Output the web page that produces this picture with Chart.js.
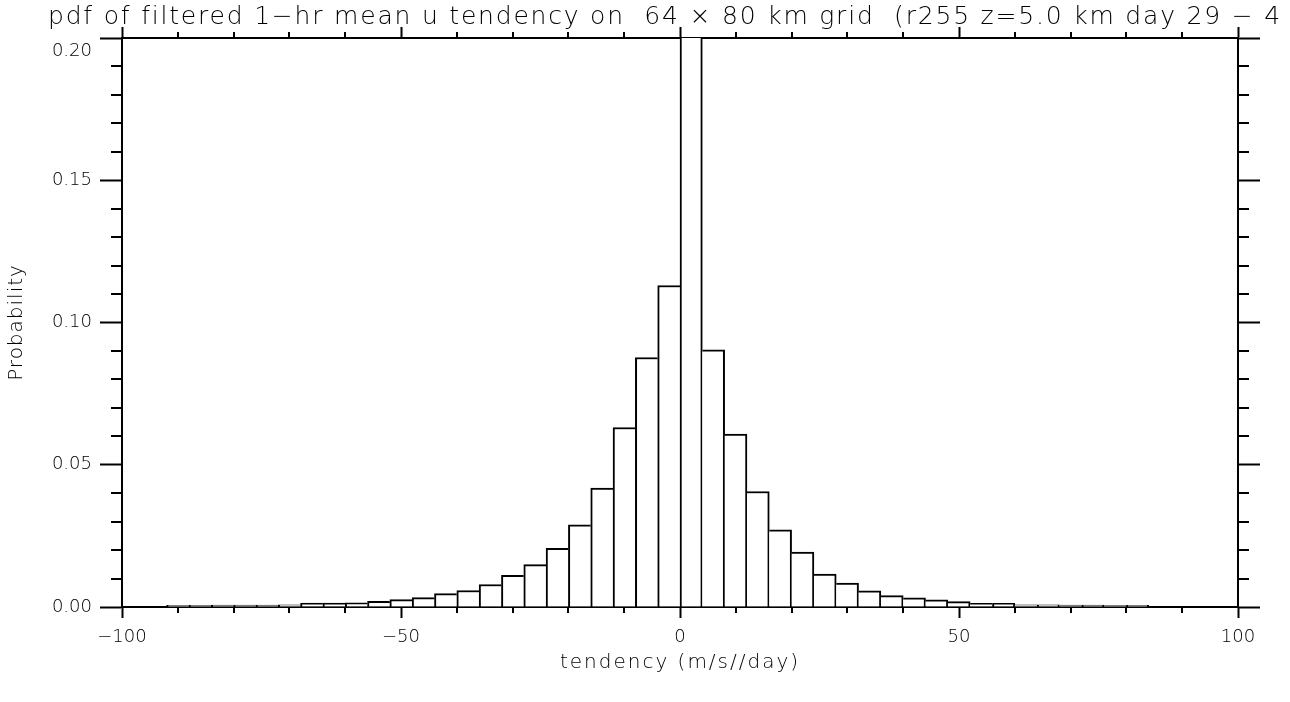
<!DOCTYPE html>
<html>
<head>
<meta charset="utf-8">
<script src="https://cdn.jsdelivr.net/npm/chart.js@4.4.1/dist/chart.umd.min.js"></script>
<style>
  html, body { margin: 0; padding: 0; background: #fff; }
  #wrap { width: 1290px; height: 702px; }
</style>
</head>
<body>
<div id="wrap"><canvas id="pdfChart" width="1290" height="702"></canvas></div>
<script>
// bin centres (4 m/s/day wide bins) and probability
var binCentres = [-90, -86, -82, -78, -74, -70, -66, -62, -58, -54, -50, -46, -42, -38, -34, -30, -26, -22, -18, -14, -10, -6, -2,
                  2, 6, 10, 14, 18, 22, 26, 30, 34, 38, 42, 46, 50, 54, 58, 62, 66, 70, 74, 78, 82];
var probability = [0.0006, 0.0006, 0.0007, 0.0007, 0.0007, 0.0008, 0.0014, 0.0014, 0.0015, 0.0020, 0.0026, 0.0033, 0.0047, 0.0058,
                   0.0079, 0.0111, 0.0149, 0.0206, 0.0289, 0.0418, 0.0631, 0.0877, 0.1130,
                   0.2600, 0.0904, 0.0608, 0.0406, 0.0271, 0.0193, 0.0116, 0.0084, 0.0057, 0.0040, 0.0032, 0.0025, 0.0019,
                   0.0013, 0.0013, 0.0008, 0.0008, 0.0007, 0.0007, 0.0006, 0.0006];
var xMinorTicks = [-90, -80, -70, -60, -40, -30, -20, -10, 10, 20, 30, 40, 60, 70, 80, 90];
var yMinorTicks = [0.01, 0.02, 0.03, 0.04, 0.06, 0.07, 0.08, 0.09, 0.11, 0.12, 0.13, 0.14, 0.16, 0.17, 0.18, 0.19];
var plotTitle = 'pdf of filtered 1\u2212hr mean u tendency on  64 \u00d7 80 km grid  (r255 z=5.0 km day 29 \u2212 4';
var xTitle = 'tendency (m/s//day)';
var yTitle = 'Probability';

var fam = '"DejaVu Sans", sans-serif';
var tickFont = { family: fam, size: 18, weight: '200', lineHeight: 1.5 };

// IDL style minor ticks and the titles (wide spaced like the vector font)
var extras = {
  id: 'extras',
  afterDraw: function(chart) {
    var ctx = chart.ctx, a = chart.chartArea;
    var xs = chart.scales.x, ys = chart.scales.y;
    ctx.save();
    ctx.strokeStyle = '#000';
    ctx.lineWidth = 2;
    ctx.beginPath();
    xMinorTicks.forEach(function(v) {
      var px = Math.round(xs.getPixelForValue(v));
      ctx.moveTo(px, a.bottom); ctx.lineTo(px, a.bottom + 6);
      ctx.moveTo(px, a.top); ctx.lineTo(px, a.top - 6);
    });
    yMinorTicks.forEach(function(v) {
      var py = Math.round(ys.getPixelForValue(v));
      ctx.moveTo(a.left, py); ctx.lineTo(a.left - 11, py);
      ctx.moveTo(a.right, py); ctx.lineTo(a.right + 11, py);
    });
    ctx.stroke();

    ctx.fillStyle = '#000';
    ctx.textBaseline = 'middle';
    ctx.textAlign = 'left';
    ctx.font = '200 25px ' + fam;
    ctx.letterSpacing = '1.8px';
    ctx.fillText(plotTitle, 48, 17);

    ctx.textAlign = 'center';
    ctx.font = '200 20px ' + fam;
    ctx.letterSpacing = '2px';
    ctx.fillText(xTitle, (a.left + a.right) / 2, 663);

    ctx.letterSpacing = '1px';
    ctx.translate(17, (a.top + a.bottom) / 2);
    ctx.rotate(-Math.PI / 2);
    ctx.fillText(yTitle, 0, 0);
    ctx.restore();
  }
};

var axisGrid = function(len) {
  return { drawOnChartArea: false, drawTicks: true, offset: false, tickLength: len, tickWidth: 2, tickColor: '#000' };
};
var axisBorder = { display: true, color: '#000', width: 2 };

// the taller of two neighbouring bars draws their shared edge
var sideBorders = function(c) {
  var i = c.dataIndex, p = probability;
  return {
    top: 2, bottom: 0,
    left: (i === 0 || p[i] >= p[i - 1]) ? 2 : 0,
    right: (i === p.length - 1 || p[i] > p[i + 1]) ? 2 : 0
  };
};

new Chart(document.getElementById('pdfChart'), {
  type: 'bar',
  data: {
    datasets: [{
      data: binCentres.map(function(c, i) { return { x: c, y: probability[i] }; }),
      backgroundColor: '#fff',
      borderColor: '#000',
      borderWidth: sideBorders,
      borderSkipped: false,
      barPercentage: 1,
      categoryPercentage: 1,
      xAxisID: 'x',
      yAxisID: 'y'
    }]
  },
  options: {
    responsive: false,
    animation: false,
    layout: { padding: 0 },
    plugins: { legend: { display: false }, tooltip: { enabled: false } },
    scales: {
      x: {
        type: 'linear', position: 'bottom', min: -100, max: 100, offset: false, z: 1,
        ticks: {
          stepSize: 50, color: '#000', font: tickFont, padding: 6, maxRotation: 0,
          callback: function(v) { return v < 0 ? '\u2212' + Math.abs(v) : String(v); }
        },
        grid: axisGrid(11), border: axisBorder,
        afterFit: function(s) { s.height = 95; }
      },
      x2: {
        type: 'linear', axis: 'x', position: 'top', min: -100, max: 100, offset: false, z: 1,
        ticks: { display: false, stepSize: 50 },
        grid: axisGrid(11), border: axisBorder,
        afterFit: function(s) { s.height = 38; }
      },
      y: {
        type: 'linear', position: 'left', min: 0, max: 0.2, z: 1,
        ticks: {
          stepSize: 0.05, color: '#000', font: tickFont, padding: 8,
          callback: function(v) { return Math.abs(v - 0.2) < 1e-9 ? ['', '0.20'] : v.toFixed(2); }
        },
        grid: axisGrid(22), border: axisBorder,
        afterFit: function(s) { s.width = 122; }
      },
      y2: {
        type: 'linear', axis: 'y', position: 'right', min: 0, max: 0.2, z: 1,
        ticks: { display: false, stepSize: 0.05 },
        grid: axisGrid(22), border: axisBorder,
        afterFit: function(s) { s.width = 52; }
      }
    }
  },
  plugins: [extras]
});
</script>
</body>
</html>
